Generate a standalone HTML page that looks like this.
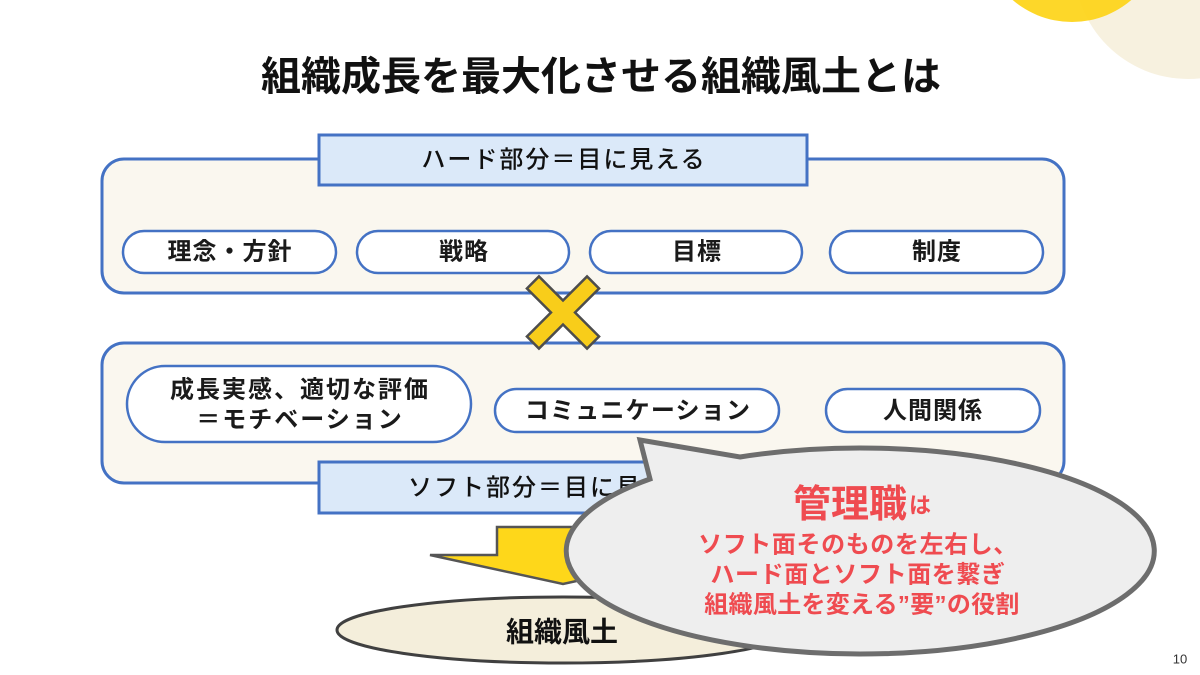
<!DOCTYPE html>
<html lang="ja">
<head>
<meta charset="utf-8">
<style>
  html, body { margin: 0; padding: 0; background: #ffffff; }
  body { width: 1200px; height: 675px; overflow: hidden; }
  svg { display: block; }
  text { font-family: "Liberation Sans", "Noto Sans CJK JP", sans-serif; }
</style>
</head>
<body>
<svg width="1200" height="675" viewBox="0 0 1200 675" xmlns="http://www.w3.org/2000/svg">
  <!-- background decorations -->
  <rect x="0" y="0" width="1200" height="675" fill="#ffffff"/>
  <circle cx="1188" cy="-35" r="114" fill="#f7f1df"/>
  <circle cx="1072" cy="-69" r="91" fill="#fdd419" opacity="0.93"/>

  <!-- title -->
  <text x="601" y="77" font-size="40" font-weight="700" fill="#111" text-anchor="middle" dominant-baseline="central">組織成長を最大化させる組織風土とは</text>

  <!-- top (hard) box -->
  <rect x="102" y="159" width="962" height="134" rx="22" ry="22" fill="#faf7ef" stroke="#4472c4" stroke-width="3"/>
  <rect x="319" y="135" width="488" height="50" fill="#dbe9f9" stroke="#4472c4" stroke-width="3"/>
  <text x="564" y="160" font-size="24" font-weight="500" fill="#111" text-anchor="middle" dominant-baseline="central" letter-spacing="2">ハード部分＝目に見える</text>

  <rect x="123" y="231" width="213" height="42" rx="21" ry="21" fill="#ffffff" stroke="#4472c4" stroke-width="2.5"/>
  <text x="230" y="252" font-size="24" font-weight="700" fill="#1a1a1a" text-anchor="middle" dominant-baseline="central" letter-spacing="1">理念・方針</text>
  <rect x="357" y="231" width="212" height="42" rx="21" ry="21" fill="#ffffff" stroke="#4472c4" stroke-width="2.5"/>
  <text x="464" y="252" font-size="24" font-weight="700" fill="#1a1a1a" text-anchor="middle" dominant-baseline="central" letter-spacing="1">戦略</text>
  <rect x="590" y="231" width="212" height="42" rx="21" ry="21" fill="#ffffff" stroke="#4472c4" stroke-width="2.5"/>
  <text x="697" y="252" font-size="24" font-weight="700" fill="#1a1a1a" text-anchor="middle" dominant-baseline="central" letter-spacing="1">目標</text>
  <rect x="830" y="231" width="213" height="42" rx="21" ry="21" fill="#ffffff" stroke="#4472c4" stroke-width="2.5"/>
  <text x="937" y="252" font-size="24" font-weight="700" fill="#1a1a1a" text-anchor="middle" dominant-baseline="central" letter-spacing="1">制度</text>

  <!-- bottom (soft) box -->
  <rect x="102" y="343" width="962" height="140" rx="22" ry="22" fill="#faf7ef" stroke="#4472c4" stroke-width="3"/>
  <rect x="127" y="366" width="344" height="76" rx="38" ry="38" fill="#ffffff" stroke="#4472c4" stroke-width="2.5"/>
  <text x="300" y="390" font-size="24" font-weight="700" fill="#1a1a1a" text-anchor="middle" dominant-baseline="central" letter-spacing="2">成長実感、適切な評価</text>
  <text x="300" y="420" font-size="24" font-weight="700" fill="#1a1a1a" text-anchor="middle" dominant-baseline="central" letter-spacing="2">＝モチベーション</text>

  <rect x="495" y="389" width="284" height="43" rx="21.5" ry="21.5" fill="#ffffff" stroke="#4472c4" stroke-width="2.5"/>
  <text x="638" y="411" font-size="24" font-weight="700" fill="#1a1a1a" text-anchor="middle" dominant-baseline="central" letter-spacing="1.2">コミュニケーション</text>
  <rect x="826" y="389" width="214" height="43" rx="21.5" ry="21.5" fill="#ffffff" stroke="#4472c4" stroke-width="2.5"/>
  <text x="933" y="411" font-size="24" font-weight="700" fill="#1a1a1a" text-anchor="middle" dominant-baseline="central" letter-spacing="1">人間関係</text>

  <rect x="319" y="462" width="488" height="51" fill="#dbe9f9" stroke="#4472c4" stroke-width="3"/>
  <text x="564" y="488" font-size="24" font-weight="500" fill="#111" text-anchor="middle" dominant-baseline="central" letter-spacing="2">ソフト部分＝目に見えない</text>

  <!-- X mark -->
  <polygon transform="translate(563,312.5) rotate(45)"
    points="-8.5,-42.5 8.5,-42.5 8.5,-8.5 42.5,-8.5 42.5,8.5 8.5,8.5 8.5,42.5 -8.5,42.5 -8.5,8.5 -42.5,8.5 -42.5,-8.5 -8.5,-8.5"
    fill="#f8cd1a" stroke="#4d4d4d" stroke-width="2.5" stroke-linejoin="miter"/>

  <!-- yellow arrow -->
  <polygon points="497,527 629,527 629,555 696,555 563,584 430,555 497,555"
    fill="#fed71a" stroke="#555555" stroke-width="2.5" stroke-linejoin="miter"/>

  <!-- ellipse 組織風土 -->
  <ellipse cx="563" cy="630" rx="226" ry="33" fill="#f4eedb" stroke="#404040" stroke-width="3"/>
  <text x="562" y="632" font-size="28" font-weight="700" fill="#111" text-anchor="middle" dominant-baseline="central">組織風土</text>

  <!-- speech bubble -->
  <path d="M 650 479 L 640 440 L 740 457 A 294 103 0 1 1 650 479 Z"
    fill="#eeeeee" stroke="#6d6d6d" stroke-width="5" stroke-linejoin="miter"/>
  <text x="862" y="505" text-anchor="middle" dominant-baseline="central" fill="#ef4b50" font-weight="700"><tspan font-size="38">管理職</tspan><tspan font-size="22" dx="2">は</tspan></text>
  <text x="858" y="545" font-size="24" font-weight="700" fill="#ef4b50" text-anchor="middle" dominant-baseline="central" letter-spacing="0.6">ソフト面そのものを左右し、</text>
  <text x="858" y="575" font-size="24" font-weight="700" fill="#ef4b50" text-anchor="middle" dominant-baseline="central" letter-spacing="0.6">ハード面とソフト面を繋ぎ</text>
  <text x="862" y="605" font-size="24" font-weight="700" fill="#ef4b50" text-anchor="middle" dominant-baseline="central" letter-spacing="0.3">組織風土を変える”要”の役割</text>

  <!-- page number -->
  <text x="1180" y="659" font-size="13" fill="#333" text-anchor="middle" dominant-baseline="central">10</text>
</svg>
</body>
</html>
